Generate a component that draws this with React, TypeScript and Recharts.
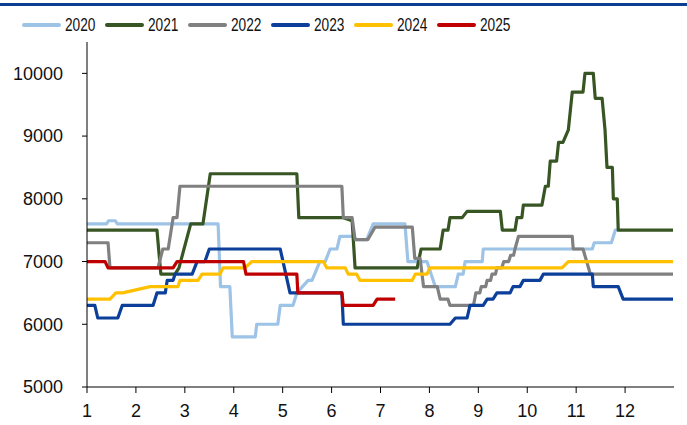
import React from 'react';
import { LineChart, Line, XAxis, YAxis, Legend } from 'recharts';

type Pt = [number, number];

// month (fractional) -> price
const s2020: Pt[] = [
  [1, 7600], [1.4, 7600], [1.44, 7650], [1.58, 7650], [1.62, 7600], [3.68, 7600], [3.73, 6600],
  [3.92, 6600], [3.97, 5800], [4.44, 5800], [4.47, 6000], [4.9, 6000], [4.95, 6300], [5.21, 6300],
  [5.29, 6500], [5.52, 6700], [5.6, 6700], [5.76, 7000], [5.87, 7000], [5.97, 7200], [6.11, 7200],
  [6.17, 7400], [6.45, 7400], [6.5, 7350], [6.72, 7350], [6.85, 7600], [7.5, 7600], [7.56, 7000],
  [7.95, 7000], [8.12, 6600], [8.53, 6600], [8.59, 6800], [8.69, 6800], [8.73, 7000], [9.08, 7000],
  [9.1, 7200], [11.33, 7200], [11.37, 7300], [11.72, 7300], [11.8, 7500], [11.84, 7500],
];

const s2021: Pt[] = [
  [1, 7500], [2.43, 7500], [2.51, 6800], [2.8, 6800], [2.88, 6900], [3.12, 7600], [3.37, 7600],
  [3.52, 8400], [5.29, 8400], [5.33, 7700], [6.24, 7700], [6.42, 7650], [6.48, 6900], [7.75, 6900],
  [7.83, 7200], [8.22, 7200], [8.28, 7500], [8.38, 7500], [8.42, 7700], [8.67, 7700], [8.77, 7800],
  [9.45, 7800], [9.49, 7500], [9.75, 7500], [9.79, 7700], [9.89, 7700], [9.92, 7900], [10.3, 7900],
  [10.37, 8200], [10.43, 8200], [10.47, 8600], [10.6, 8600], [10.64, 8900], [10.73, 8900],
  [10.84, 9100], [10.92, 9700], [11.14, 9700], [11.18, 10000], [11.35, 10000], [11.39, 9600],
  [11.53, 9600], [11.59, 9100], [11.63, 8500], [11.74, 8500], [11.76, 8000], [11.84, 8000],
  [11.86, 7500], [12.98, 7500],
];

const s2022: Pt[] = [
  [1, 7300], [1.43, 7300], [1.47, 6900], [2.45, 6900], [2.55, 7200], [2.66, 7200], [2.76, 7700],
  [2.84, 7700], [2.9, 8200], [6.21, 8200], [6.24, 7700], [6.42, 7700], [6.48, 7350], [6.74, 7350],
  [6.89, 7550], [7.65, 7550], [7.7, 7050], [7.81, 7050], [7.88, 6600], [8.16, 6600], [8.22, 6400],
  [8.38, 6400], [8.42, 6300], [8.9, 6300], [8.95, 6500], [9.03, 6500], [9.06, 6600], [9.15, 6600],
  [9.18, 6700], [9.25, 6700], [9.28, 6800], [9.35, 6800], [9.38, 6900], [9.48, 6900], [9.52, 7000],
  [9.62, 7000], [9.66, 7100], [9.72, 7100], [9.75, 7200], [9.82, 7400], [10.92, 7400],
  [10.94, 7200], [11.14, 7200], [11.29, 6800], [12.98, 6800],
];

const s2023: Pt[] = [
  [1, 6300], [1.16, 6300], [1.22, 6100], [1.63, 6100], [1.72, 6300], [2.35, 6300], [2.43, 6500],
  [2.6, 6500], [2.64, 6700], [2.76, 6700], [2.8, 6800], [3.15, 6800], [3.25, 7000], [3.41, 7000],
  [3.5, 7200], [4.95, 7200], [5.15, 6500], [6.21, 6500], [6.24, 6000], [8.42, 6000], [8.53, 6100],
  [8.77, 6100], [8.83, 6300], [9.1, 6300], [9.18, 6400], [9.3, 6400], [9.38, 6500], [9.65, 6500],
  [9.71, 6600], [9.85, 6600], [9.92, 6700], [10.26, 6700], [10.33, 6800], [11.33, 6800],
  [11.35, 6600], [11.86, 6600], [11.96, 6400], [12.98, 6400],
];

const s2024: Pt[] = [
  [1, 6400], [1.47, 6400], [1.59, 6500], [1.73, 6500], [2.29, 6600], [2.86, 6600], [2.9, 6700],
  [3.27, 6700], [3.35, 6800], [3.72, 6800], [3.78, 6900], [4.23, 6900], [4.37, 7000], [5.83, 7000],
  [5.9, 6900], [6.28, 6900], [6.34, 6800], [6.51, 6800], [6.58, 6700], [7.65, 6700], [7.71, 6800],
  [7.95, 6800], [8.01, 6900], [10.71, 6900], [10.84, 7000], [12.98, 7000],
];

const s2025: Pt[] = [
  [1, 7000], [1.37, 7000], [1.43, 6900], [2.76, 6900], [2.84, 7000], [4.2, 7000], [4.25, 6800],
  [5.29, 6800], [5.31, 6500], [6.21, 6500], [6.24, 6300], [6.85, 6300], [6.93, 6400], [7.3, 6400],
];

const X_TICKS = [1, 2, 3, 4, 5, 6, 7, 8, 9, 10, 11, 12];
const Y_TICKS = [5000, 6000, 7000, 8000, 9000, 10000];

const SERIES = [
  { name: '2020', color: '#9dc3e6', pts: s2020 },
  { name: '2021', color: '#375623', pts: s2021 },
  { name: '2022', color: '#808080', pts: s2022 },
  { name: '2023', color: '#0b3f99', pts: s2023 },
  { name: '2024', color: '#ffc000', pts: s2024 },
  { name: '2025', color: '#c00000', pts: s2025 },
];

const toRows = (pts: Pt[]) => pts.map(([x, y]) => ({ x, y }));

const FONT = "'Liberation Sans', Arial, sans-serif";

// legend text is a narrow face in the original, so squeeze Liberation Sans
const renderLegend = () => (
  <div style={{ display: 'flex', alignItems: 'center', height: 26, paddingLeft: 22, fontFamily: FONT, fontSize: 18, color: '#111' }}>
    {SERIES.map((s) => (
      <div key={s.name} style={{ display: 'flex', alignItems: 'center', width: 83 }}>
        <span style={{ display: 'inline-block', width: 41, height: 4, borderRadius: 2, background: s.color }} />
        <span style={{ marginLeft: 4, display: 'inline-block', transform: 'scaleX(0.76)', transformOrigin: 'left center' }}>
          {s.name}
        </span>
      </div>
    ))}
  </div>
);

export default function App() {
  return (
    <div style={{ position: 'relative', width: 687, height: 425, background: '#fff' }}>
      <style>{'body{margin:0}'}</style>
      <div style={{ position: 'absolute', top: 3, left: 0, width: 687, height: 3, background: '#0b3d91' }} />
      <LineChart width={687} height={425} margin={{ top: 12, right: 13, left: 0, bottom: 0 }}>
        <Legend verticalAlign="top" height={30} content={renderLegend} />
        <XAxis
          type="number"
          dataKey="x"
          domain={[1, 13]}
          ticks={X_TICKS}
          allowDataOverflow
          height={38}
          stroke="#000"
          tickSize={6}
          tickMargin={11}
          tick={{ fill: '#111', fontSize: 18, fontFamily: FONT }}
        />
        <YAxis
          type="number"
          domain={[5000, 10500]}
          ticks={Y_TICKS}
          allowDataOverflow
          width={87}
          stroke="#000"
          tickSize={5}
          tickMargin={19}
          tick={{ fill: '#111', fontSize: 18, fontFamily: FONT }}
        />
        {SERIES.map((s) => (
          <Line
            key={s.name}
            data={toRows(s.pts)}
            dataKey="y"
            name={s.name}
            type="linear"
            stroke={s.color}
            strokeWidth={3.2}
            strokeLinejoin="round"
            dot={false}
            activeDot={false}
            isAnimationActive={false}
          />
        ))}
      </LineChart>
    </div>
  );
}
